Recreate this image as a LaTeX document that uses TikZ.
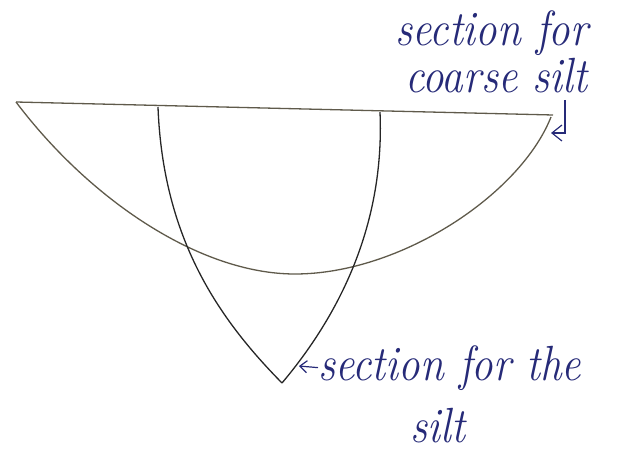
\documentclass[tikz,border=0pt]{standalone}
\usepackage{tikz}
\usetikzlibrary{arrows,arrows.meta,positioning}
\definecolor{ink}{RGB}{38,42,120}
\definecolor{pencil}{RGB}{95,90,75}

\begin{document}
\begin{tikzpicture}[x=1pt, y=-1pt,
		note/.style={text=ink, font=\fontsize{43}{50}\selectfont\itshape, inner sep=0pt, anchor=base west},
		rim/.style={draw=pencil, line width=1.3pt},
		arch/.style={draw=black!85, line width=1.3pt},
		pointer/.style={-{Straight Barb[length=7pt,width=12pt]}, draw=ink, line width=1.2pt}]
			\useasboundingbox (0,0) rectangle (620,454);
			% top of the channel
			\coordinate (L) at (16,102);
			\coordinate (R) at (553,115);
			\coordinate (B) at (295,274);
			\draw [rim] (L) -- (R);
			% wide shallow section
			\draw [rim] (L) .. controls (90,200) and (200,274) .. (B) .. controls (400,274) and (520,195) .. (551,117);
			% deep narrow section
			\coordinate (A) at (282,383);
			\draw [arch] (158,107) .. controls (163,240) and (220,320) .. (A);
			\draw [arch] (380,112) .. controls (385,230) and (335,320) .. (A);
			
			\node [note] (coarse) at (395,46) {\scalebox{1}[1.15]{section for}};
			\node [note] (coarse2) at (405,93) {\scalebox{1}[1.15]{coarse silt}};
			\coordinate (hook) at (565,100);
			\coordinate (tipC) at (551,133);
			\draw [pointer, -{Straight Barb[length=10pt,width=16pt]}] (hook) |- (tipC);
			
			\node [note] (fine) at (318,380) {\scalebox{1}[1.15]{section for the}};
			\node [note] (fine2) at (410,442) {\scalebox{1}[1.15]{silt}};
			\coordinate (tipS) at (299,366);
			\draw [pointer] (fine.west) -- (tipS);
		\end{tikzpicture}
\end{document}
